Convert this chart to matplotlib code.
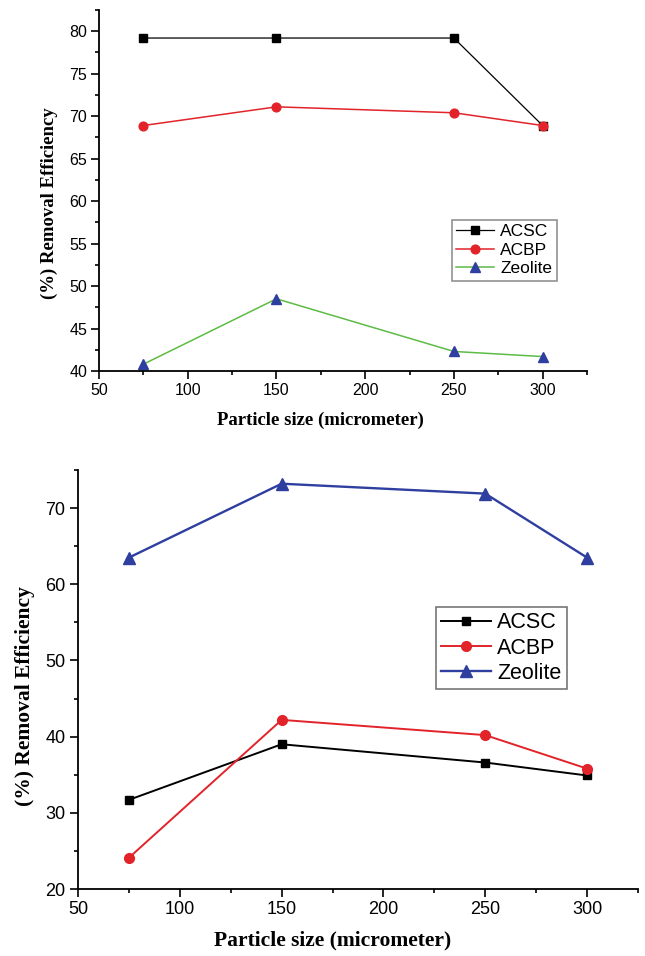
import matplotlib
matplotlib.use("Agg")
import matplotlib.pyplot as plt
from matplotlib.ticker import MultipleLocator

particle_size = [75, 150, 250, 300]

# Top panel
top_acsc = [79.2, 79.2, 79.2, 68.9]
top_acbp = [68.9, 71.1, 70.4, 68.9]
top_zeolite = [40.8, 48.5, 42.3, 41.7]

# Bottom panel
bot_acsc = [31.7, 39.0, 36.6, 34.9]
bot_acbp = [24.1, 42.2, 40.2, 35.8]
bot_zeolite = [63.5, 73.2, 71.9, 63.5]

RED = "#e2232a"
GREEN = "#5dbb46"
BLUE = "#2f3f9f"

fig = plt.figure(figsize=(6.45, 9.56), dpi=100)

def style(ax, tsize, maj, mnr):
    for s in ["top", "right"]:
        ax.spines[s].set_visible(False)
    for s in ["left", "bottom"]:
        ax.spines[s].set_linewidth(1.3)
    ax.tick_params(which="major", direction="out", length=maj, width=1.2, pad=3)
    ax.tick_params(which="minor", direction="out", length=mnr, width=1.2)
    for lab in ax.get_xticklabels() + ax.get_yticklabels():
        lab.set_fontfamily("Liberation Sans")
        lab.set_fontsize(tsize)

# ---- Top chart
ax1 = fig.add_axes([99/645, 1-371/956, (587-99)/645, (371-10)/956])
ax1.plot(particle_size, top_acsc, color="black", lw=0.9, marker="s", ms=5.5, label="ACSC")
ax1.plot(particle_size, top_acbp, color=RED, lw=1.1, marker="o", ms=6.3, mfc=RED, mec=RED, label="ACBP")
ax1.plot(particle_size, top_zeolite, color=GREEN, lw=1.1, marker="^", ms=7, mfc=BLUE, mec=BLUE, label="Zeolite")
ax1.set_xlim(50, 325)
ax1.set_ylim(40, 82.5)
ax1.set_xticks([50, 100, 150, 200, 250, 300])
ax1.set_yticks([40, 45, 50, 55, 60, 65, 70, 75, 80])
ax1.xaxis.set_minor_locator(MultipleLocator(25))
ax1.yaxis.set_minor_locator(MultipleLocator(2.5))
style(ax1, 11.5, 5.5, 3)
lf1 = {"family": "Liberation Serif", "weight": "bold", "size": 13.5}
ax1.set_xlabel("Particle size (micrometer)", fontdict=lf1)
ax1.set_ylabel("(%) Removal Efficiency", fontdict=lf1)
ax1.xaxis.set_label_coords(0.453, -0.112)
ax1.yaxis.set_label_coords(-0.085, 0.464)
leg1 = ax1.legend(loc="upper left", bbox_to_anchor=(0.723, 0.419), frameon=True, fancybox=False,
                  edgecolor="#777777", prop={"family": "Liberation Sans", "size": 12.5},
                  handlelength=2.2, handletextpad=0.35, borderpad=0.25, labelspacing=0.2,
                  borderaxespad=0)
leg1.get_frame().set_linewidth(1.2)

# ---- Bottom chart
ax2 = fig.add_axes([78/645, 1-889/956, (638-78)/645, (889-470)/956])
ax2.plot(particle_size, bot_acsc, color="black", lw=1.4, marker="s", ms=6, label="ACSC")
ax2.plot(particle_size, bot_acbp, color=RED, lw=1.4, marker="o", ms=7, mfc=RED, mec=RED, label="ACBP")
ax2.plot(particle_size, bot_zeolite, color=BLUE, lw=1.7, marker="^", ms=8, mfc=BLUE, mec=BLUE, label="Zeolite")
ax2.set_xlim(50, 325)
ax2.set_ylim(20, 75)
ax2.set_xticks([50, 100, 150, 200, 250, 300])
ax2.set_yticks([20, 30, 40, 50, 60, 70])
ax2.xaxis.set_minor_locator(MultipleLocator(25))
ax2.yaxis.set_minor_locator(MultipleLocator(5))
style(ax2, 13, 6, 3)
lf2 = {"family": "Liberation Serif", "weight": "bold", "size": 15.5}
ax2.set_xlabel("Particle size (micrometer)", fontdict=lf2)
ax2.set_ylabel("(%) Removal Efficiency", fontdict=lf2)
ax2.xaxis.set_label_coords(0.455, -0.098)
ax2.yaxis.set_label_coords(-0.076, 0.461)
leg2 = ax2.legend(loc="upper left", bbox_to_anchor=(0.639, 0.673), frameon=True, fancybox=False,
                  edgecolor="#555555", prop={"family": "Liberation Sans", "size": 15.5},
                  handlelength=2.3, handletextpad=0.3, borderpad=0.25, labelspacing=0.2,
                  borderaxespad=0)
leg2.get_frame().set_linewidth(1.2)

fig.savefig("out.png", dpi=100)
